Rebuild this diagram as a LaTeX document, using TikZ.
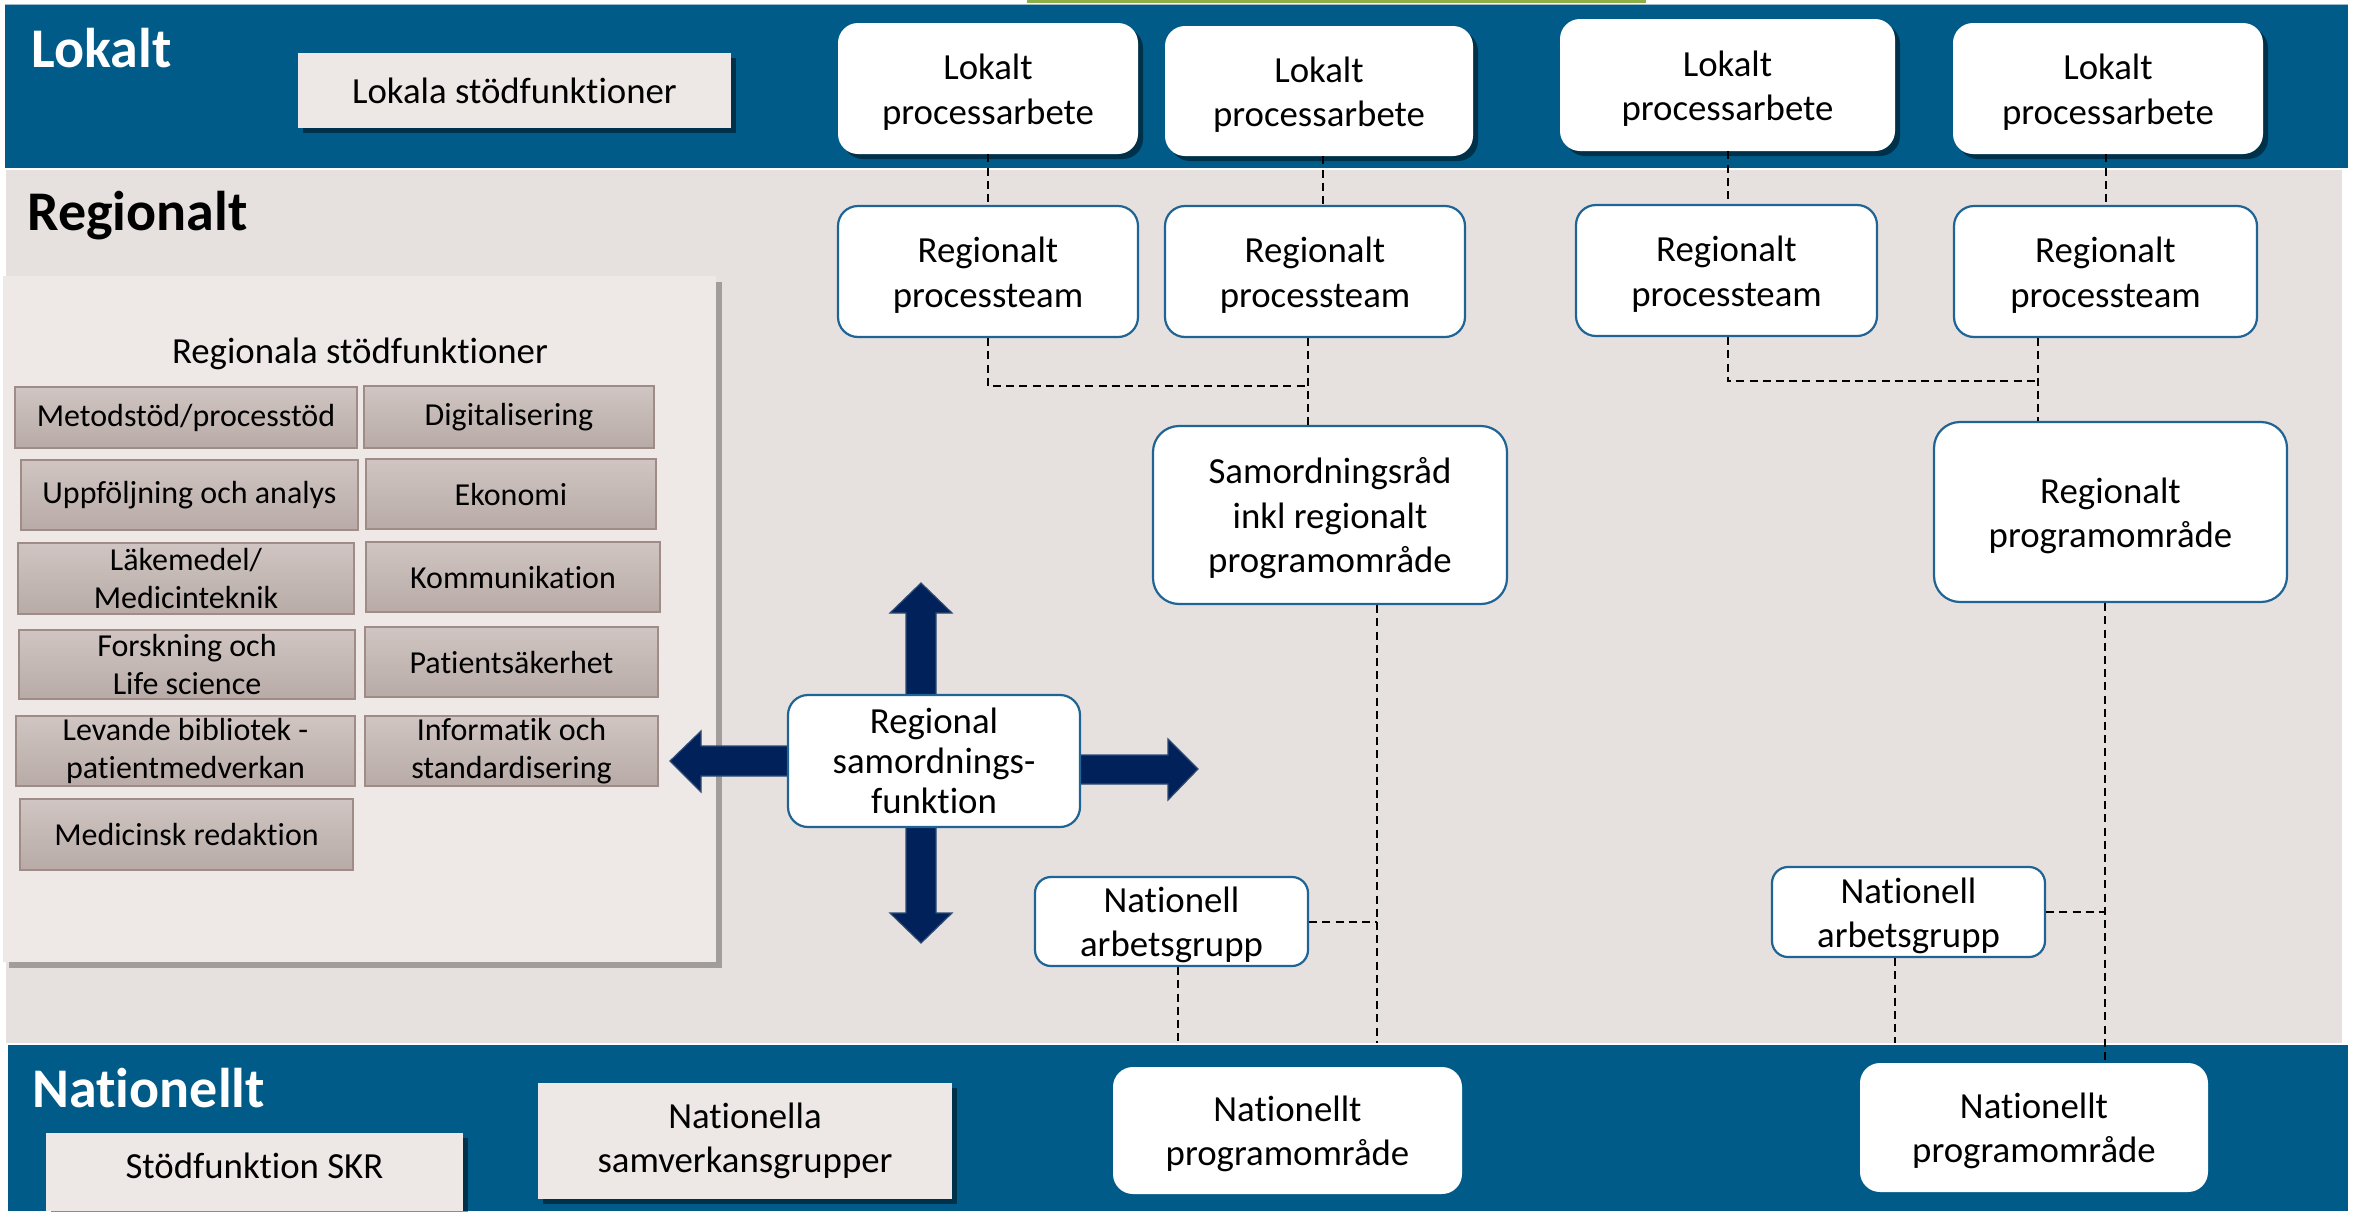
\documentclass[tikz,border=0pt]{standalone}
\usepackage{fontspec}
\setmainfont{Carlito}[Ligatures=NoCommon]
\usetikzlibrary{shadows,calc}
\definecolor{band}{RGB}{0,91,136}
\definecolor{regbg}{RGB}{230,225,223}
\definecolor{panel}{RGB}{238,233,231}
\definecolor{lightbox}{RGB}{237,231,229}
\definecolor{rimblue}{RGB}{31,100,148}
\definecolor{navy}{RGB}{0,33,90}
\definecolor{navyrim}{RGB}{45,75,115}
\definecolor{smtop}{RGB}{208,197,194}
\definecolor{smbot}{RGB}{184,171,167}
\definecolor{smrim}{RGB}{160,140,135}
\definecolor{topgreen}{RGB}{140,175,70}
\definecolor{topline}{RGB}{160,185,205}
\tikzset{
  boxtext/.style={font=\fontsize{18.4}{22.2}\selectfont, align=center, text=black, inner sep=0pt},
  shad/.style={drop shadow={shadow xshift=2.5pt, shadow yshift=-2.5pt, opacity=0.45, fill=black}},
  lokbox/.style={boxtext, fill=white, rounded corners=10pt, shad},
  regbox/.style={boxtext, fill=white, draw=rimblue, line width=1.1pt, rounded corners=10pt},
  natbox/.style={boxtext, fill=white, rounded corners=10pt},
  graybox/.style={boxtext, fill=lightbox, shad},
  panelbox/.style={fill=panel, inner sep=0pt, drop shadow={shadow xshift=3pt, shadow yshift=-3pt, opacity=0.3, fill=black}},
  smallbox/.style={font=\fontsize{16}{18.8}\selectfont, align=center, text=black, inner sep=0pt,
     top color=smtop, bottom color=smbot, draw=smrim, line width=0.6pt},
  heading/.style={font=\fontsize{28}{30}\selectfont\bfseries, anchor=base west, inner sep=0pt},
  conn/.style={draw=black, line width=1pt, dash pattern=on 4pt off 2.6pt},
  bigarrow/.style={fill=navy, draw=navyrim, line width=0.6pt}
}
% top strut that lowers multi-line text slightly, as in the reference
\newcommand{\tstrut}{\rule{0pt}{16.4pt}}
% \mybox{style}{name}{x1}{y1}{x2}{y2}{text}  (pixel coordinates)
\newcommand{\mybox}[7]{\node[#1, minimum width={(#5-#3)*0.5pt}, minimum height={(#6-#4)*0.5pt}] (#2) at ({(#3+#5)/2},{(#4+#6)/2}) {#7};}
\begin{document}
\begin{tikzpicture}[x=0.5pt,y=-0.5pt]
\useasboundingbox (0,0) rectangle (2357,1211);
\fill[white] (0,0) rectangle (2357,1211);
% bands
\fill[topline] (5,3.5) rectangle (2348,5);
\fill[topgreen] (1027,0) rectangle (1646,2.5);
\fill[band] (5,5) rectangle (2348,168);
\fill[regbg] (6,170) rectangle (2342,1043);
\fill[band] (8,1045) rectangle (2348,1211);

% headings
\node[heading, text=white] (hlok) at (31,67) {Lokalt};
\node[heading, text=black] (hreg) at (27,230) {Regionalt};
\node[heading, text=white] (hnat) at (32,1107) {Nationellt};

% local level
\mybox{graybox}{lsf}{298}{53}{731}{128}{Lokala stödfunktioner}
\mybox{lokbox}{l1}{838}{23}{1138}{154}{\tstrut Lokalt\\processarbete}
\mybox{lokbox}{l2}{1165}{26}{1473}{156}{\tstrut Lokalt\\processarbete}
\mybox{lokbox}{l3}{1560}{19}{1895}{151}{\tstrut Lokalt\\processarbete}
\mybox{lokbox}{l4}{1953}{23}{2263}{154}{\tstrut Lokalt\\processarbete}

% regional process teams
\mybox{regbox}{r1}{838}{206}{1138}{337}{\tstrut Regionalt\\processteam}
\mybox{regbox}{r2}{1165}{206}{1465}{337}{\tstrut Regionalt\\processteam}
\mybox{regbox}{r3}{1576}{205}{1877}{336}{\tstrut Regionalt\\processteam}
\mybox{regbox}{r4}{1954}{206}{2257}{337}{\tstrut Regionalt\\processteam}

\mybox{regbox, rounded corners=13pt}{s}{1153}{426}{1507}{604}{\tstrut Samordningsråd\\inkl regionalt\\programområde}
\mybox{regbox, rounded corners=13pt}{rp}{1934}{422}{2287}{602}{\tstrut Regionalt\\programområde}

% panel
\mybox{panelbox}{panel}{3}{276}{716}{962}{}
\node[boxtext] (ptitle) at (360,354) {Regionala stödfunktioner};
\mybox{smallbox}{m1}{15}{387}{357}{448}{Metodstöd/processtöd}
\mybox{smallbox}{m2}{364}{386}{654}{448}{Digitalisering}
\mybox{smallbox}{m3}{21}{460}{358}{530}{Uppföljning och analys}
\mybox{smallbox}{m4}{366}{459}{656}{529}{Ekonomi}
\mybox{smallbox}{m5}{18}{543}{354}{614}{Läkemedel/\\Medicinteknik}
\mybox{smallbox}{m6}{366}{542}{660}{612}{Kommunikation}
\mybox{smallbox}{m7}{19}{630}{355}{699}{Forskning och\\Life science}
\mybox{smallbox}{m8}{365}{627}{658}{697}{Patientsäkerhet}
\mybox{smallbox}{m9}{16}{716}{355}{786}{Levande bibliotek -\\patientmedverkan}
\mybox{smallbox}{m10}{365}{716}{658}{786}{Informatik och\\standardisering}
\mybox{smallbox}{m11}{20}{799}{353}{870}{Medicinsk redaktion}

% big arrows around the coordination function
\fill[bigarrow] (906,699) -- (906,613) -- (890,613) -- (921,583) -- (952,613) -- (936,613) -- (936,699) -- cycle;
\fill[bigarrow] (906,823) -- (906,913) -- (890,913) -- (921,943) -- (952,913) -- (936,913) -- (936,823) -- cycle;
\fill[bigarrow] (792,746) -- (701,746) -- (701,731) -- (670,761) -- (701,792) -- (701,776) -- (792,776) -- cycle;
\fill[bigarrow] (1075,755) -- (1168,755) -- (1168,739) -- (1198,769) -- (1168,800) -- (1168,784) -- (1075,784) -- cycle;
\mybox{regbox, font=\fontsize{18.4}{20}\selectfont}{rs}{788}{695}{1080}{827}{Regional\\samordnings-\\funktion}

\mybox{regbox, rounded corners=8pt}{na1}{1035}{877}{1308}{966}{\tstrut Nationell\\arbetsgrupp}
\mybox{regbox, rounded corners=8pt}{na2}{1772}{867}{2045}{957}{\tstrut Nationell\\arbetsgrupp}

% national level
\mybox{graybox}{skr}{46}{1133}{463}{1211}{}
\node[boxtext] (skrtext) at (254.5,1166) {Stödfunktion SKR};
\mybox{graybox}{ns}{538}{1083}{952}{1199}{Nationella\\samverkansgrupper}
\mybox{natbox}{np1}{1113}{1067}{1462}{1194}{\tstrut Nationellt\\programområde}
\mybox{natbox}{np2}{1860}{1063}{2208}{1192}{\tstrut Nationellt\\programområde}

% connectors
\coordinate (b1) at (1308,386);
\coordinate (b2) at (2038,381);
\coordinate (s1) at (1377,1043);
\coordinate (n1b) at (1178,1043);
\coordinate (s2) at (2105,1043);
\coordinate (n2b) at (1895,1043);
\draw[conn] (l1.south) -- (r1.north);
\draw[conn] ($(l2.south)+(4,0)$) -- ($(l2.south |- r2.north)+(4,0)$);
\draw[conn] (l3.south) -- (l3.south |- r3.north);
\draw[conn] (l4.south -| r4.north) -- (r4.north);
\draw[conn] (r1.south) |- (b1);
\draw[conn] (r2.south -| b1) -- (b1 |- s.north);
\draw[conn] (r3.south -| l3.south) |- (b2);
\draw[conn] (r4.south -| b2) -- (b2 |- rp.north);
\draw[conn] (s.south -| s1) -- (s1);
\draw[conn] (na1.east) -- (na1.east -| s1);
\draw[conn] (na1.south -| n1b) -- (n1b);
\draw[conn] (rp.south -| s2) -- (np2.north -| s2);
\draw[conn] (na2.east) -- (na2.east -| s2);
\draw[conn] (na2.south -| n2b) -- (n2b);
\end{tikzpicture}
\end{document}
